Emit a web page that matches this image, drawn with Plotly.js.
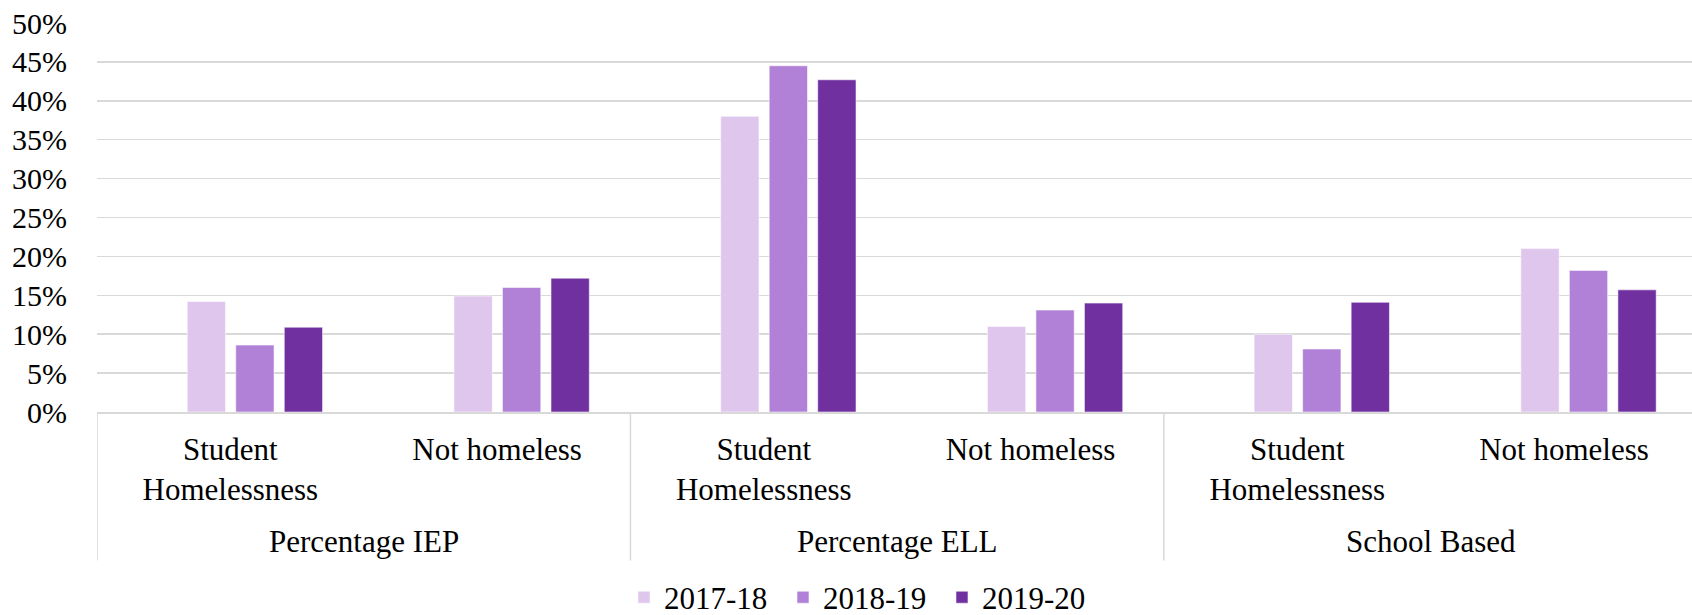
<!DOCTYPE html>
<html>
<head>
<meta charset="utf-8">
<script src="https://cdn.plot.ly/plotly-3.0.1.min.js"></script>
<style>
  html, body { margin: 0; padding: 0; background: #ffffff; }
  #chart { width: 1692px; height: 615px; }
</style>
</head>
<body>
<div id="chart"></div>
<script>
// ---- data ----
const categories = ['Percentage IEP', 'Percentage ELL', 'School Based'];
const subgroups = ['Student<br>Homelessness', 'Not homeless'];
const seriesNames = ['2017-18', '2018-19', '2019-20'];
const values2017 = [0.142, 0.149, 0.380, 0.110, 0.100, 0.210];
const values2018 = [0.086, 0.160, 0.445, 0.131, 0.081, 0.182];
const values2019 = [0.109, 0.172, 0.427, 0.140, 0.141, 0.157];
const yTickVals = [0, 0.05, 0.10, 0.15, 0.20, 0.25, 0.30, 0.35, 0.40, 0.45, 0.50];

// ---- styling ----
const colors = ['#DFC6EC', '#B180D7', '#7030A0'];
const barWidth = 0.1436;
const barOffsets = [-0.1617, 0.0202, 0.2021];

const xPos = [];
const tickText = [];
categories.forEach((c, i) => subgroups.forEach((s, j) => { xPos.push(i * subgroups.length + j); tickText.push(s); }));

const seriesValues = [values2017, values2018, values2019];
const traces = seriesNames.map((name, k) => ({
  type: 'bar',
  name: name,
  x: xPos,
  y: seriesValues[k],
  width: barWidth,
  offset: barOffsets[k],
  marker: { color: colors[k], line: { color: 'rgba(255,255,255,0.55)', width: 1 } },
  hoverinfo: 'skip'
}));

const nSub = subgroups.length;
const shapes = [];
for (let i = 0; i <= categories.length; i++) {
  shapes.push({
    type: 'line', xref: 'x', yref: 'paper',
    x0: i * nSub - 0.5, x1: i * nSub - 0.5,
    y0: 0, y1: -0.382,
    line: { color: '#D9D9D9', width: 1.5 }
  });
}
const annotations = categories.map((c, i) => ({
  text: c, xref: 'x', yref: 'paper',
  x: i * nSub + (nSub - 1) / 2, y: -0.334,
  xanchor: 'center', yanchor: 'middle',
  showarrow: false,
  font: { family: 'Liberation Serif', size: 31, color: '#000000' }
}));

const layout = {
  width: 1692, height: 615,
  margin: { l: 97, r: 0, t: 23, b: 203, pad: 0, autoexpand: false },
  paper_bgcolor: '#ffffff', plot_bgcolor: '#ffffff',
  barmode: 'overlay',
  xaxis: {
    range: [-0.5, 5.48],
    tickmode: 'array', tickvals: xPos, ticktext: tickText,
    showgrid: false, zeroline: false,
    showline: true, linecolor: '#D9D9D9', linewidth: 1.5,
    ticks: '', ticklabelstandoff: 9,
    tickfont: { family: 'Liberation Serif', size: 31, color: '#000000' },
    automargin: false, fixedrange: true
  },
  yaxis: {
    range: [0, 0.5],
    tickmode: 'array', tickvals: yTickVals,
    tickformat: '.0%',
    showgrid: true, gridcolor: '#D9D9D9', gridwidth: 1.5,
    zeroline: false, showline: false,
    ticks: '', ticklabelstandoff: 29,
    tickfont: { family: 'Liberation Serif', size: 30, color: '#000000' },
    automargin: false, fixedrange: true
  },
  showlegend: true,
  legend: {
    orientation: 'h',
    x: 0.3304, xanchor: 'left',
    y: -0.477, yanchor: 'middle',
    entrywidth: 114, entrywidthmode: 'pixels',
    font: { family: 'Liberation Serif', size: 31, color: '#000000' },
    bgcolor: 'rgba(0,0,0,0)',
    traceorder: 'normal'
  },
  shapes: shapes,
  annotations: annotations
};

Plotly.newPlot('chart', traces, layout, { staticPlot: true, displayModeBar: false });
</script>
</body>
</html>
